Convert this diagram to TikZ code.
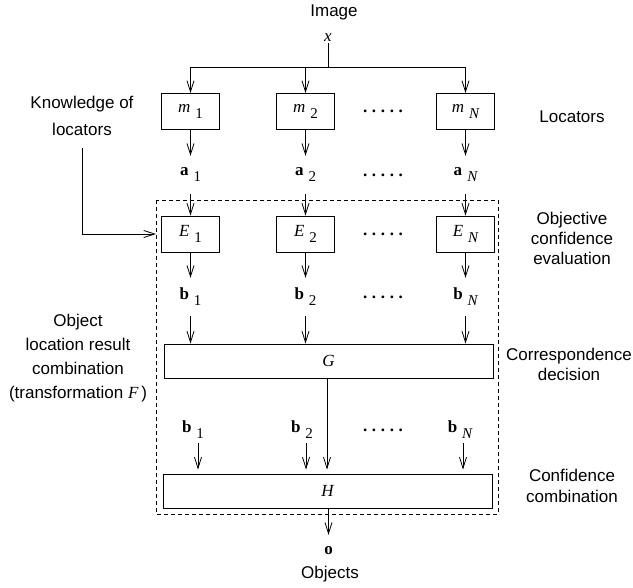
\documentclass[tikz,border=0pt]{standalone}
\usepackage{fontspec}
\setmainfont{Liberation Sans}
\newfontfamily\serif{Liberation Serif}
\usetikzlibrary{arrows.meta}
\newcommand\mi[1]{{\serif\fontsize{17}{17}\selectfont\itshape #1}}
\newcommand\bv[1]{{\serif\fontsize{17}{17}\selectfont\bfseries #1}}
\newcommand\sbr[1]{\hspace{5pt}\raisebox{-6pt}{\serif\fontsize{15}{15}\selectfont #1}}
\newcommand\sbi[1]{\hspace{5pt}\raisebox{-6pt}{\serif\fontsize{15}{15}\selectfont\itshape #1}}
\newcommand\fivedots{\hbox to 40pt{.\hfil.\hfil.\hfil.\hfil.}}
\begin{document}
\begin{tikzpicture}[x=1pt,y=-1pt,
  every node/.style={font=\fontsize{17}{20}\selectfont},
  box/.style={draw,line width=0.9pt,minimum width=58pt,minimum height=36pt,inner sep=0pt},
  wide/.style={draw,line width=0.9pt,minimum width=329pt,minimum height=34pt,inner sep=0pt},
  lab/.style={inner sep=0pt,minimum height=38pt},
  arr/.style={line width=0.8pt,-{Straight Barb[length=11pt,width=7pt,line width=0.8pt]}},
  ln/.style={line width=0.8pt},
  dotsn/.style={inner sep=0pt,font=\serif\fontsize{17}{17}\selectfont\bfseries}]
\useasboundingbox (0,0) rectangle (633,588);
% titles
\node (img) at (334,12) {Image};
\node[inner sep=1pt] (x) at (328,38) {\mi{x}};
\coordinate (br) at (328,67);
% locators
\node[box] (m1) at (190.5,111.5) {\mi{m}\sbr{1}};
\node[box] (m2) at (305.5,111.5) {\mi{m}\sbr{2}};
\node[box] (mN) at (465.5,111.5) {\mi{m}\sbi{N}};
\coordinate (br1) at (m1.north |- br);
\coordinate (brN) at (mN.north |- br);
\draw[ln] (x.south) -- (br);
\draw[ln] (br1) -- (brN);
\draw[arr] (br1) -- (m1.north);
\draw[arr] (m2.north |- br) -- (m2.north);
\draw[arr] (brN) -- (mN.north);
% a labels
\node[lab] (a1) at (190.5,175) {\bv{a}\sbr{1}};
\node[lab] (a2) at (305.5,175) {\bv{a}\sbr{2}};
\node[lab] (aN) at (465.5,175) {\bv{a}\sbi{N}};
\foreach \i in {1,2,N} \draw[arr] (m\i.south) -- (a\i.north);
% E boxes
\node[box] (E1) at (190.5,234) {\mi{E}\sbr{1}};
\node[box] (E2) at (305.5,234) {\mi{E}\sbr{2}};
\node[box] (EN) at (465.5,234) {\mi{E}\sbi{N}};
\foreach \i in {1,2,N} \draw[arr] (a\i.south) -- (E\i.north);
% b labels
\node[lab] (b1) at (190.5,297) {\bv{b}\sbr{1}};
\node[lab] (b2) at (305.5,297) {\bv{b}\sbr{2}};
\node[lab] (bN) at (465.5,297) {\bv{b}\sbi{N}};
\foreach \i in {1,2,N} \draw[arr] (E\i.south) -- (b\i.north);
% G
\node[wide] (G) at (328.5,361) {\mi{G}};
\foreach \i in {1,2,N} \draw[arr] (b\i.south) -- (b\i.south |- G.north);
% second b row
\node[inner sep=0pt,minimum height=26pt] (c1) at (193,430) {\bv{b}\sbr{1}};
\node[inner sep=0pt,minimum height=26pt] (c2) at (302,430) {\bv{b}\sbr{2}};
\node[inner sep=0pt,minimum height=26pt] (cN) at (460,430) {\bv{b}\sbi{N}};
% H
\node[wide] (H) at (327.5,491) {\mi{H}};
\draw[arr,shorten >=4pt] ([xshift=5pt]c1.south) -- ([xshift=5pt]c1.south |- H.north);
\draw[arr,shorten >=4pt] ([xshift=4pt]c2.south) -- ([xshift=4pt]c2.south |- H.north);
\draw[arr,shorten >=4pt] ([xshift=3pt]cN.south) -- ([xshift=3pt]cN.south |- H.north);
\draw[arr,shorten >=4pt] (G.south -| 327,0) -- (H.north -| 327,0);
% output
\node[inner sep=0pt,minimum height=32pt] (o) at (328.5,551) {\bv{o}};
\draw[arr] (H.south -| o.north) -- (o.north);
\node (obj) at (330,574) {Objects};
% dots
\foreach \yy in {111,175,234,297,430} \node[dotsn] at (383,\yy) {\fivedots};
% dashed boundary F
\draw[line width=0.8pt,dash pattern=on 4pt off 3pt] (156,200) rectangle (498,514);
% knowledge
\node[align=center,font=\fontsize{17}{27}\selectfont] (know) at (82,116) {Knowledge of\\locators};
\draw[arr,shorten >=5pt] (82,148) |- (E1.west);
% left text
\node[align=center,font=\fontsize{17}{24}\selectfont] (comb) at (78,358) {Object\\location result\\combination\\(transformation \mi{F}\,)};
% right labels
\node (loc) at (572,117) {Locators};
\node[align=center,font=\fontsize{17}{20}\selectfont] (obje) at (572,238) {Objective\\confidence\\evaluation};
\node[align=center,font=\fontsize{17}{20}\selectfont] (corr) at (569,364) {Correspondence\\decision};
\node[align=center,font=\fontsize{17}{21}\selectfont] (conf) at (572,486) {Confidence\\combination};
\end{tikzpicture}
\end{document}
